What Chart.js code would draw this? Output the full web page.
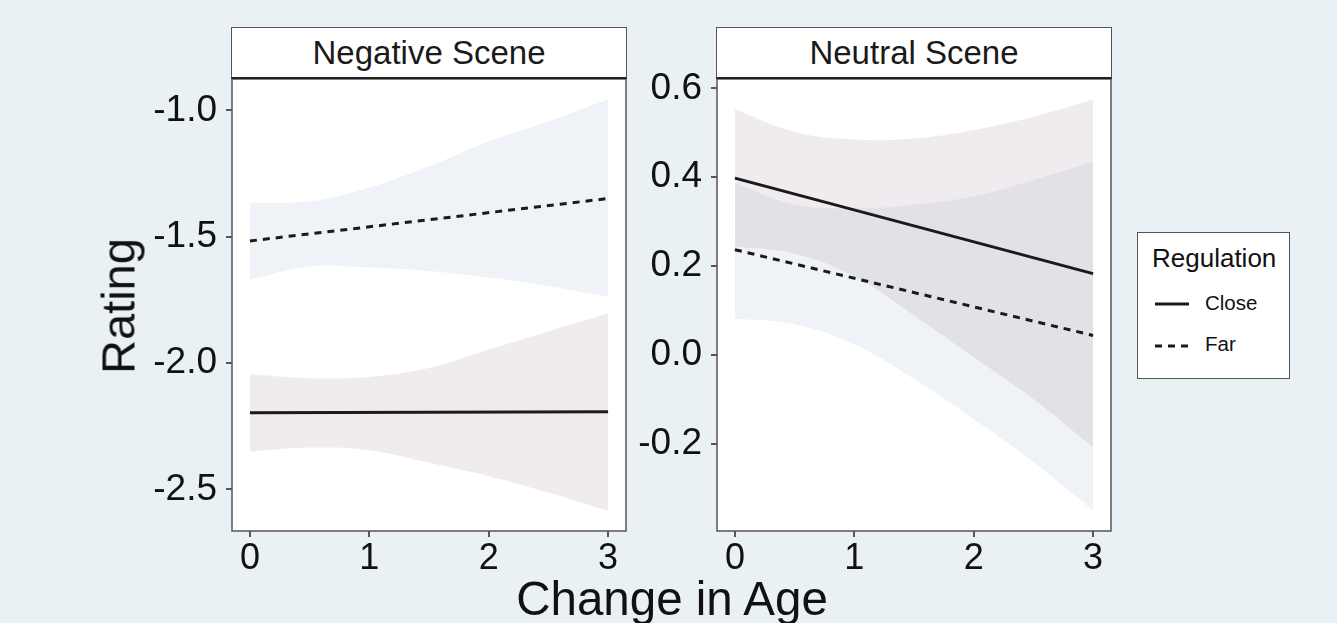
<!DOCTYPE html>
<html>
<head>
<meta charset="utf-8">
<script src="https://cdn.jsdelivr.net/npm/chart.js"></script>
<style>
  html, body { margin:0; padding:0; }
  body { width:1337px; height:623px; background:#EAF1F5; position:relative; overflow:hidden;
         font-family:"Liberation Sans", Arial, sans-serif; color:#111; }
  canvas { position:absolute; }
  .strip { position:absolute; top:27px; height:49px; background:#fff; border:1px solid #555;
           border-bottom:2px solid #222; box-sizing:content-box; text-align:center;
           font-size:33px; line-height:50px; color:#1a1a1a; white-space:nowrap; }
  .ytitle { position:absolute; left:118px; top:306px; font-size:47px; line-height:47px; white-space:nowrap;
            transform:translate(-50%,-50%) rotate(-90deg); }
  .xtitle { position:absolute; left:672px; top:575px; font-size:47.5px; line-height:47px; white-space:nowrap;
            transform:translateX(-50%); }
  .legend { position:absolute; left:1137px; top:232px; width:151px; height:145px; background:#fff;
            border:1px solid #555; }
  .legend .ttl { position:absolute; left:14px; top:10px; font-size:26px; line-height:30px; white-space:nowrap; }
  .legend .lab { position:absolute; left:67px; font-size:20.5px; line-height:24px; white-space:nowrap; }
  .legend svg { position:absolute; left:16px; }
</style>
</head>
<body>
<canvas id="c1" width="510" height="560" style="left:130px; top:60px;"></canvas>
<canvas id="c2" width="510" height="560" style="left:615px; top:60px;"></canvas>

<div class="strip" id="s1" style="left:231px; width:394px;"></div>
<div class="strip" id="s2" style="left:716px; width:394px;"></div>

<div class="ytitle" id="yt"></div>
<div class="xtitle" id="xt"></div>

<div class="legend">
  <div class="ttl" id="lt"></div>
  <svg width="36" height="6" style="top:68px;"><line x1="1" y1="3" x2="35" y2="3" stroke="#1a1a1a" stroke-width="3"/></svg>
  <div class="lab" id="l1" style="top:58px;"></div>
  <svg width="36" height="6" style="top:110px;"><line x1="1" y1="3" x2="35" y2="3" stroke="#1a1a1a" stroke-width="3" stroke-dasharray="7,6"/></svg>
  <div class="lab" id="l2" style="top:99px;"></div>
</div>

<script>
// ---- Text ----
const panelTitles = ["Negative Scene", "Neutral Scene"];
const yTitle = "Rating";
const xTitle = "Change in Age";
const legendTitle = "Regulation";
const seriesNames = ["Close", "Far"];

// ---- Tick labels ----
const xTicks = [0, 1, 2, 3];
const yTicksNeg = [-2.5, -2.0, -1.5, -1.0];
const yTicksNeu = [-0.2, 0.0, 0.2, 0.4, 0.6];

// ---- X positions ----
const bandX = [0, 0.5, 1, 1.5, 2, 2.5, 3];
const lineX = [0, 3];

// ---- Negative Scene ----
const negCloseFit   = [-2.197, -2.193];
const negFarFit     = [-1.517, -1.349];
const negCloseUpper = [-2.046, -2.060, -2.055, -2.020, -1.947, -1.875, -1.803];
const negCloseLower = [-2.351, -2.335, -2.345, -2.395, -2.448, -2.513, -2.586];
const negFarUpper   = [-1.366, -1.360, -1.305, -1.221, -1.123, -1.044, -0.956];
const negFarLower   = [-1.671, -1.618, -1.622, -1.636, -1.662, -1.695, -1.737];

// ---- Neutral Scene ----
const neuCloseFit   = [0.398, 0.183];
const neuFarFit     = [0.237, 0.044];
const neuCloseUpper = [0.553, 0.502, 0.485, 0.487, 0.506, 0.536, 0.575];
const neuCloseLower = [0.244, 0.228, 0.177, 0.089, -0.005, -0.099, -0.208];
const neuFarUpper   = [0.387, 0.338, 0.330, 0.338, 0.357, 0.394, 0.435];
const neuFarLower   = [0.082, 0.069, 0.024, -0.054, -0.144, -0.241, -0.350];

document.getElementById('s1').textContent = panelTitles[0];
document.getElementById('s2').textContent = panelTitles[1];
document.getElementById('yt').textContent = yTitle;
document.getElementById('xt').textContent = xTitle;
document.getElementById('lt').textContent = legendTitle;
document.getElementById('l1').textContent = seriesNames[0];
document.getElementById('l2').textContent = seriesNames[1];

const FONT = '"Liberation Sans", Arial, sans-serif';
const closeFill = 'rgba(180,163,182,0.22)';
const farFill = 'rgba(195,208,226,0.26)';
const lineColor = '#1a1a1a';

function pts(xa, ya) { return xa.map((x, i) => ({ x: x, y: ya[i] })); }

const panelPlugin = {
  id: 'panelBox',
  beforeDatasetsDraw(chart) {
    const a = chart.chartArea, ctx = chart.ctx;
    ctx.save();
    ctx.fillStyle = '#ffffff';
    ctx.fillRect(a.left, a.top, a.right - a.left, a.bottom - a.top);
    ctx.restore();
  },
  afterDatasetsDraw(chart) {
    const a = chart.chartArea, ctx = chart.ctx;
    ctx.save();
    ctx.strokeStyle = '#555';
    ctx.lineWidth = 1.5;
    ctx.strokeRect(a.left, a.top, a.right - a.left, a.bottom - a.top);
    ctx.restore();
  }
};

function makeChart(id, d, yTicks, ymin, ymax) {
  const bandCommon = { pointRadius: 0, borderWidth: 0, tension: 0.4, order: 2, borderColor: 'rgba(0,0,0,0)' };
  return new Chart(document.getElementById(id), {
    type: 'line',
    data: {
      datasets: [
        Object.assign({ label: seriesNames[0] + ' upper', data: pts(bandX, d.closeUpper), fill: '+1', backgroundColor: closeFill }, bandCommon),
        Object.assign({ label: seriesNames[0] + ' lower', data: pts(bandX, d.closeLower), fill: false }, bandCommon),
        Object.assign({ label: seriesNames[1] + ' upper', data: pts(bandX, d.farUpper), fill: '+1', backgroundColor: farFill }, bandCommon),
        Object.assign({ label: seriesNames[1] + ' lower', data: pts(bandX, d.farLower), fill: false }, bandCommon),
        { label: seriesNames[0], data: pts(lineX, d.closeFit), borderColor: lineColor, borderWidth: 3, pointRadius: 0, fill: false, order: 0 },
        { label: seriesNames[1], data: pts(lineX, d.farFit), borderColor: lineColor, borderWidth: 3, borderDash: [7, 6], pointRadius: 0, fill: false, order: 0 }
      ]
    },
    options: {
      responsive: false,
      animation: false,
      devicePixelRatio: 1,
      layout: { padding: { top: 19, right: 14, bottom: 0, left: 0 } },
      plugins: { legend: { display: false }, tooltip: { enabled: false }, title: { display: false } },
      scales: {
        x: {
          type: 'linear', min: -0.15, max: 3.15,
          afterBuildTicks: s => { s.ticks = xTicks.map(v => ({ value: v })); },
          afterFit: s => { s.height = 89; s.paddingLeft = 0; s.paddingRight = 0; s.paddingTop = 0; s.paddingBottom = 0; },
          ticks: { font: { family: FONT, size: 36 }, color: '#111', padding: 0, maxRotation: 0, autoSkip: false,
                   callback: v => String(v) },
          grid: { display: true, drawOnChartArea: false, drawTicks: true, tickLength: 6, color: '#555', lineWidth: 2 },
          border: { display: false }
        },
        y: {
          type: 'linear', min: ymin, max: ymax,
          afterBuildTicks: s => { s.ticks = yTicks.map(v => ({ value: v })); },
          afterFit: s => { s.width = 102; s.paddingLeft = 0; s.paddingRight = 0; s.paddingTop = 0; s.paddingBottom = 0; },
          ticks: { font: { family: FONT, size: 37 }, color: '#111', padding: 9, autoSkip: false,
                   callback: v => Number(v).toFixed(1) },
          grid: { display: true, drawOnChartArea: false, drawTicks: true, tickLength: 6, color: '#555', lineWidth: 2 },
          border: { display: false }
        }
      }
    },
    plugins: [panelPlugin]
  });
}

makeChart('c1', { closeFit: negCloseFit, farFit: negFarFit, closeUpper: negCloseUpper, closeLower: negCloseLower,
                  farUpper: negFarUpper, farLower: negFarLower }, yTicksNeg, -2.665, -0.876);
makeChart('c2', { closeFit: neuCloseFit, farFit: neuFarFit, closeUpper: neuCloseUpper, closeLower: neuCloseLower,
                  farUpper: neuFarUpper, farLower: neuFarLower }, yTicksNeu, -0.396, 0.621);
</script>
</body>
</html>
